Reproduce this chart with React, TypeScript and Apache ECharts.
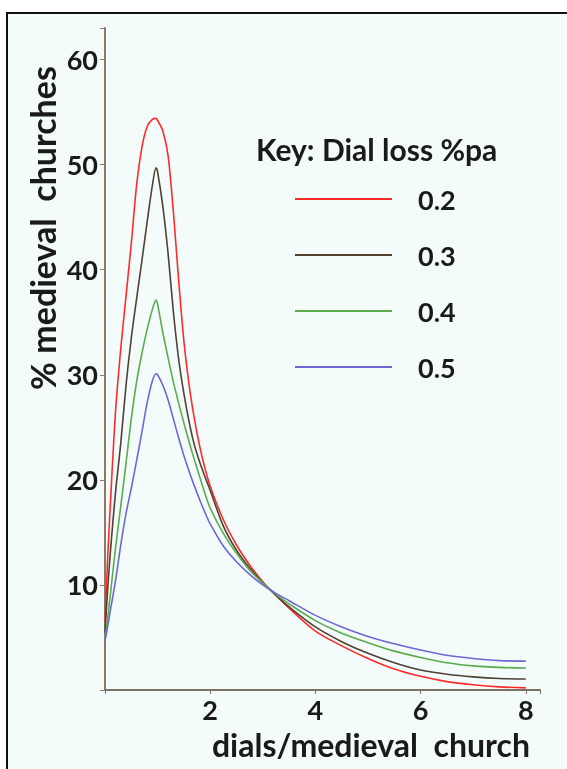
import React, { useEffect, useRef } from "react";
import * as echarts from "echarts";

// x positions (dials per medieval church)
const xs = [0, 0.05, 0.1, 0.2, 0.3, 0.4, 0.5, 0.6, 0.7, 0.8, 0.9, 0.97, 1.0, 1.1, 1.2, 1.3, 1.4, 1.5, 1.6, 1.7, 1.8, 1.9, 2.0, 2.25, 2.5, 2.75, 3.0, 3.25, 3.5, 4, 4.5, 5, 5.5, 6, 6.5, 7, 7.5, 8];

const loss02 = [6.5, 12.5, 17.5, 26.5, 32.5, 37.5, 42.5, 48, 51.6, 53.6, 54.3, 54.4, 54.2, 53.2, 50.8, 45.5, 39, 33.2, 29, 25.8, 23.2, 21.1, 19.4, 16.2, 13.8, 11.9, 10.3, 9.0, 7.8, 5.6, 4.2, 3.0, 2.0, 1.3, 0.8, 0.5, 0.3, 0.2];
const loss03 = [5.5, 9.5, 13, 18.8, 23.5, 29, 33.5, 37.2, 40.8, 44.5, 48, 49.7, 49.3, 46, 41.5, 36, 31.5, 28.2, 25.5, 23.3, 21.7, 20.3, 19.0, 15.6, 13.3, 11.6, 10.2, 9.0, 7.9, 6.0, 4.6, 3.5, 2.6, 1.9, 1.5, 1.25, 1.1, 1.05];
const loss04 = [4.7, 6.8, 9, 13.5, 17.5, 21.6, 25.8, 29.3, 32, 34.3, 36.2, 37.1, 36.7, 34, 31.6, 29.3, 27.3, 25.4, 23.6, 21.9, 20.3, 18.7, 17.3, 14.9, 13.0, 11.4, 10.2, 9.1, 8.2, 6.6, 5.4, 4.5, 3.7, 3.1, 2.6, 2.3, 2.15, 2.1];
const loss05 = [4.7, 6, 7.5, 10.4, 13.8, 16.8, 19.2, 21.8, 24.5, 27.3, 29.4, 30.1, 30, 29.0, 27.6, 25.8, 24.0, 22.3, 20.8, 19.4, 18.1, 16.9, 15.8, 13.7, 12.2, 11.0, 10.0, 9.2, 8.5, 7.1, 6.0, 5.1, 4.4, 3.8, 3.3, 3.0, 2.8, 2.75];

const seriesNames = ["0.2", "0.3", "0.4", "0.5"];
const seriesValues = [loss02, loss03, loss04, loss05];
const seriesColors = ["#ff2a2a", "#4f4232", "#5aac4c", "#6e68d4"];

const xTicks = [2, 4, 6, 8];
const yTicks = [10, 20, 30, 40, 50, 60];

const FONT = "Lato, 'Open Sans', sans-serif";

export default function App() {
  const ref = useRef<HTMLDivElement>(null);
  useEffect(() => {
    if (!ref.current) return;
    const chart = echarts.init(ref.current, undefined, { renderer: "svg" });
    chart.setOption({
      animation: false,
      backgroundColor: "transparent",
      textStyle: { fontFamily: FONT },
      graphic: [
        {
          type: "rect",
          z: -10,
          silent: true,
          shape: { x: 7, y: 13, width: 600, height: 800 },
          style: { fill: "#f3fbfb", stroke: "#111111", lineWidth: 2 },
        },
        {
          type: "text",
          x: 42,
          y: 228,
          rotation: Math.PI / 2,
          silent: true,
          style: {
            text: "% medieval  churches",
            fill: "#1a1a1a",
            font: "bold 34px Lato, 'Open Sans', sans-serif",
            textAlign: "center",
            textVerticalAlign: "middle",
          },
        },
      ],
      title: {
        text: "Key: Dial loss %pa",
        left: 251,
        top: 129,
        textStyle: { fontFamily: FONT, fontWeight: "bold", fontSize: 30, color: "#1a1a1a" },
      },
      legend: {
        orient: "vertical",
        left: 290,
        top: 176,
        icon: "rect",
        itemWidth: 97,
        itemHeight: 2,
        itemGap: 20,
        data: seriesNames,
        textStyle: {
          fontFamily: FONT,
          fontWeight: "bold",
          fontSize: 27,
          color: "#1a1a1a",
          lineHeight: 30,
          padding: [6, 0, 0, 21],
        },
      },
      grid: { left: 105, right: 27, top: 28, bottom: 79, containLabel: false },
      xAxis: {
        type: "value",
        min: 0,
        max: 8.27,
        interval: 2,
        splitLine: { show: false },
        axisLine: { lineStyle: { color: "#7d7262", width: 2 } },
        axisTick: { length: 4, lineStyle: { color: "#7d7262" } },
        axisLabel: {
          margin: 6,
          fontFamily: FONT,
          fontWeight: "bold",
          fontSize: 27,
          color: "#1a1a1a",
          formatter: (v: number) => (xTicks.includes(v) ? String(v) : ""),
        },
        name: "dials/medieval  church",
        nameLocation: "end",
        nameGap: -10,
        nameTextStyle: {
          fontFamily: FONT,
          fontWeight: "bold",
          fontSize: 32,
          color: "#1a1a1a",
          align: "right",
          verticalAlign: "top",
          padding: [38, 0, 0, 0],
        },
      },
      yAxis: {
        type: "value",
        min: 0,
        max: 63,
        interval: 10,
        splitLine: { show: false },
        axisLine: { lineStyle: { color: "#8b7a68", width: 2 } },
        axisTick: { length: 5, lineStyle: { color: "#8b7a68" } },
        axisLabel: {
          margin: 7,
          fontFamily: FONT,
          fontWeight: "bold",
          fontSize: 27,
          color: "#1a1a1a",
          formatter: (v: number) => (yTicks.includes(v) ? String(v) : ""),
        },
      },
      series: seriesNames.map((name, i) => ({
        name,
        type: "line",
        data: xs.map((x, j) => [x, seriesValues[i][j]]),
        smooth: 0.3,
        symbol: "none",
        color: seriesColors[i],
        lineStyle: { color: seriesColors[i], width: 1.6 },
      })),
    });
    return () => chart.dispose();
  }, []);
  return (
    <div
      ref={ref}
      style={{ position: "fixed", left: 0, top: 0, width: 567, height: 769 }}
    />
  );
}
